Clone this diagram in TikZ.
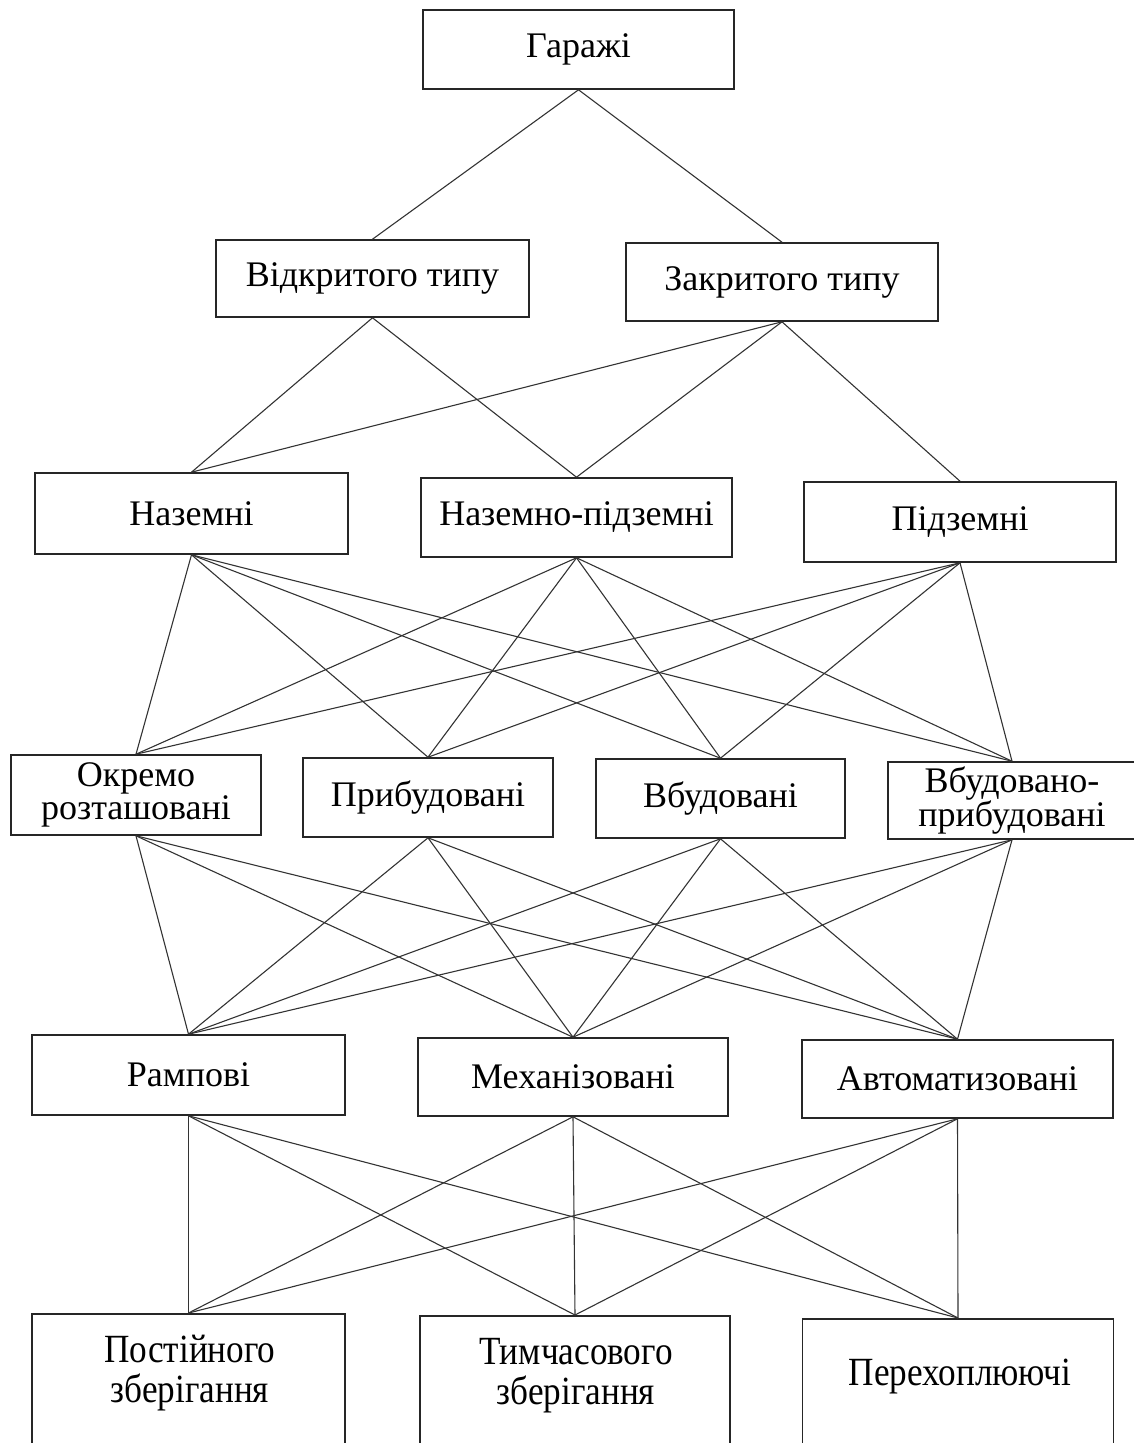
\documentclass[tikz,border=0pt]{standalone}
\usepackage{fontspec}
\setmainfont{Liberation Serif}
\newfontfamily\myserif[FakeStretch=1.0]{Liberation Serif}
\newfontfamily\narrowserif[FakeStretch=0.88]{Liberation Serif}
\begin{document}
\begin{tikzpicture}[x=1pt,y=-1pt,
  box/.style={draw=black!85, line width=1.6pt, inner sep=0pt, align=center,
    font=\myserif\fontsize{36}{33}\selectfont},
  btext/.style={inner sep=0pt, align=center, font=\narrowserif\fontsize{40}{40}\selectfont},
  conn/.style={draw=black!80, line width=1.1pt}]
\useasboundingbox (0,0) rectangle (1134,1443);
\clip (0,0) rectangle (1134,1443);
% level 1
\node[box, minimum width=311pt, minimum height=79pt] (g) at (578.5,49.5) {Гаражі};
% level 2
\node[box, minimum width=313pt, minimum height=77pt] (v) at (372.5,278.5) {Відкритого типу};
\node[box, minimum width=312pt, minimum height=78pt] (z) at (782,282) {Закритого типу};
% level 3
\node[box, minimum width=313pt, minimum height=81pt] (n1) at (191.5,513.5) {Наземні};
\node[box, minimum width=311pt, minimum height=79pt] (n2) at (576.5,517.5) {Наземно-підземні};
\node[box, minimum width=312pt, minimum height=80pt] (n3) at (960,522) {Підземні};
% level 4
\node[box, minimum width=250pt, minimum height=80pt] (m1) at (136,795) {Окремо\\розташовані};
\node[box, minimum width=250pt, minimum height=79pt] (m2) at (428,797.5) {Прибудовані};
\node[box, minimum width=249pt, minimum height=79pt] (m3) at (720.5,798.5) {Вбудовані};
\node[box, minimum width=248pt, minimum height=77pt] (m4) at (1012,800.5) {Вбудовано-\\прибудовані};
% level 5
\node[box, minimum width=313pt, minimum height=80pt] (k1) at (188.5,1075) {Рампові};
\node[box, minimum width=310pt, minimum height=78pt] (k2) at (573,1077) {Механізовані};
\node[box, minimum width=311pt, minimum height=78pt] (k3) at (957.5,1079) {Автоматизовані};
% level 6
\node[box, anchor=north, minimum width=313pt, minimum height=150pt] (p1) at (188.5,1313) {};
\node[box, anchor=north, minimum width=310pt, minimum height=150pt] (p2) at (575,1315) {};
\node[box, anchor=north, minimum width=311pt, minimum height=150pt] (p3) at (958,1318) {};
\node[btext] (p1t) at (190,1373) {Постійного\\зберігання};
\node[btext] (p2t) at (576,1376) {Тимчасового\\зберігання};
\node[btext] (p3t) at (960,1376) {Перехоплюючі};
% connectors
\draw[conn] (g.south) -- (v.north);
\draw[conn] (g.south) -- (z.north);
\draw[conn] (v.south) -- (n1.north);
\draw[conn] (v.south) -- (n2.north);
\draw[conn] (z.south) -- (n1.north);
\draw[conn] (z.south) -- (n2.north);
\draw[conn] (z.south) -- (n3.north);
\foreach \a in {n1,n2,n3}{
  \foreach \b in {m1,m2,m3,m4}{
    \draw[conn] (\a.south) -- (\b.north);
  }
}
\foreach \a in {m1,m2,m3,m4}{
  \foreach \b in {k1,k2,k3}{
    \draw[conn] (\a.south) -- (\b.north);
  }
}
\foreach \a in {k1,k2,k3}{
  \foreach \b in {p1,p2,p3}{
    \draw[conn] (\a.south) -- (\b.north);
  }
}
\end{tikzpicture}
\end{document}
